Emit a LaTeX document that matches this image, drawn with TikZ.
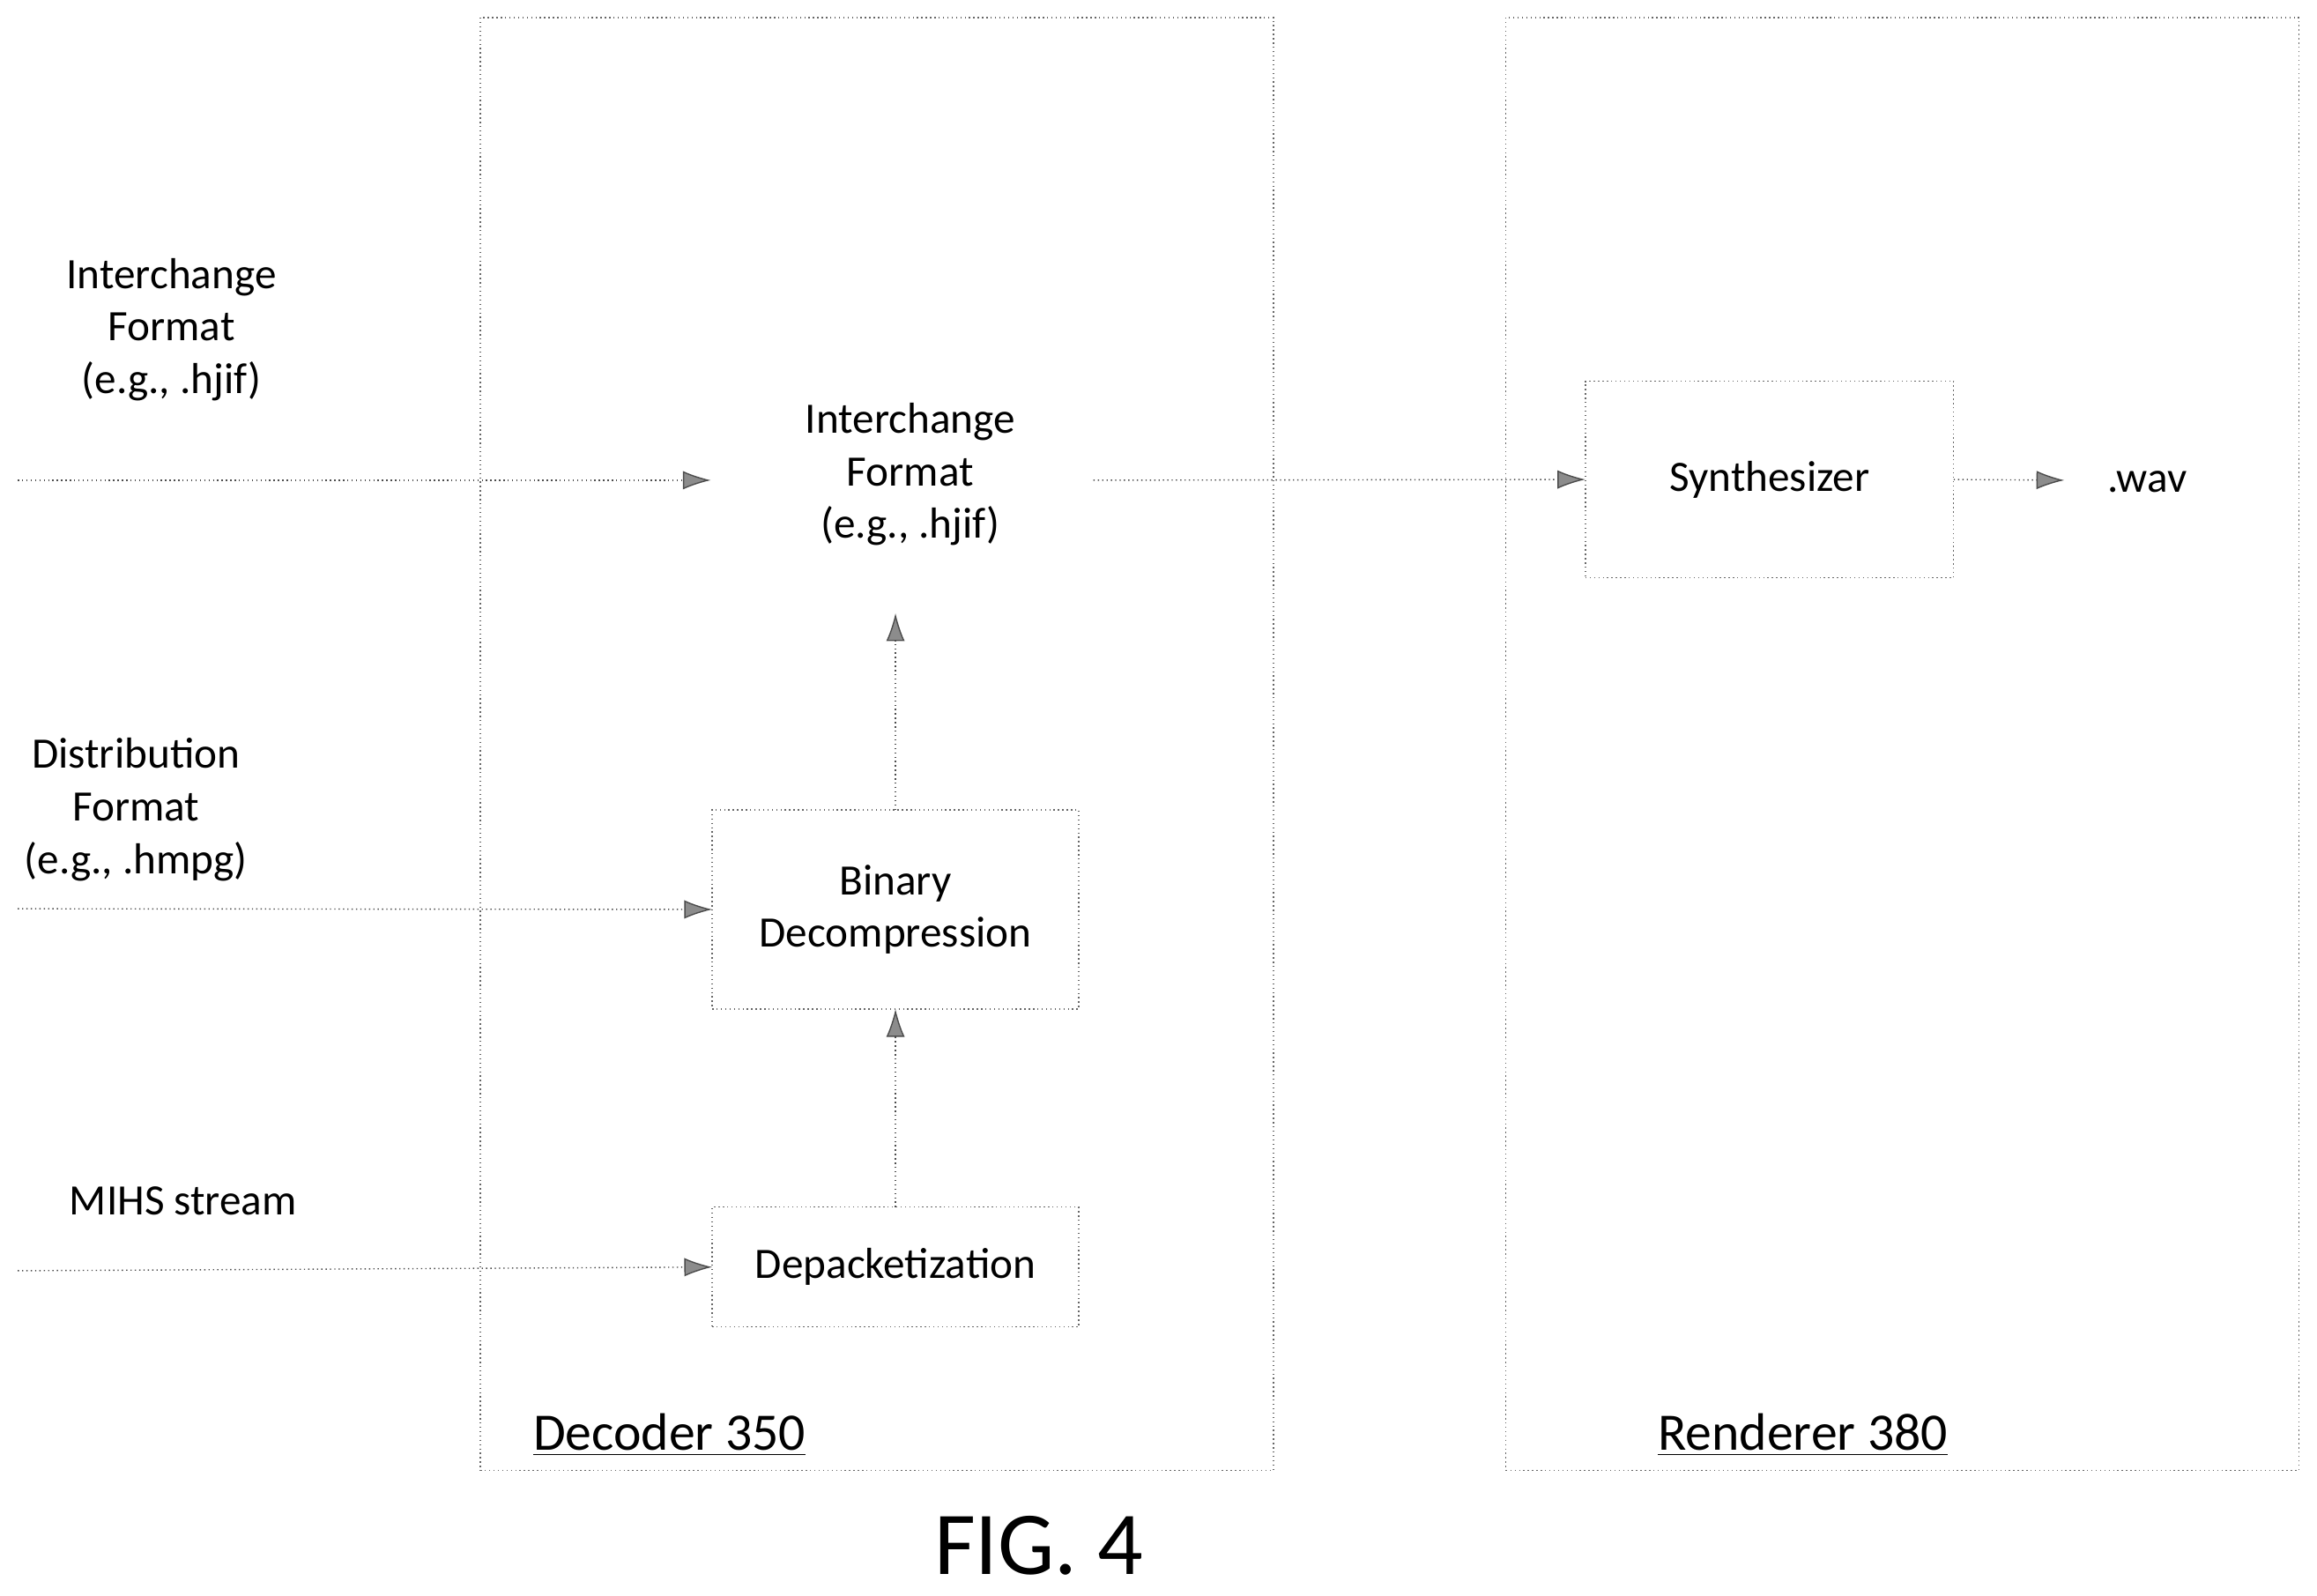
\documentclass[tikz,border=0pt]{standalone}
\usepackage{fontspec}
\setmainfont{Carlito}
\usetikzlibrary{arrows.meta}
\begin{document}
\begin{tikzpicture}
  [x=0.01677cm,y=-0.01677cm,
   frame/.style={rectangle,draw=black!60,densely dotted,thin,outer sep=0,inner sep=0},
   block/.style={rectangle,draw=black!60,densely dotted,thin,align=center,outer sep=0,
                 minimum width=4.16cm,font=\fontsize{14}{17}\selectfont},
   txt/.style={align=center,font=\fontsize{14}{17}\selectfont},
   flow/.style={draw=black!70,densely dotted,thin,
                -{Latex[length=9pt,width=6pt,fill=black!45,line width=0.4pt]}}]
  \useasboundingbox (0,0) rectangle (1568,1080);
  \node[frame,minimum width=9.0cm,minimum height=16.49cm] (dec) at (593.5,503.5) {};
  \node[frame,minimum width=9.0cm,minimum height=16.49cm] (ren) at (1287.5,503.5) {};
  \node[txt,font=\fontsize{17}{20}\selectfont] (declbl) at (453,971) {\underline{Decoder 350}};
  \node[txt,font=\fontsize{17}{20}\selectfont] (renlbl) at (1220,971) {\underline{Renderer 380}};
  \node[block,minimum width=4.18cm,minimum height=2.23cm] (synth) at (1197.5,324.5) {Synthesizer};
  \node[block,minimum height=2.26cm] (bin) at (606,615.5) {Binary\\Decompression};
  \node[block,minimum height=1.36cm] (depack) at (606,857.5) {Depacketization};
  \node[txt] (ifmt) at (616,321) {Interchange\\Format\\(e.g., .hjif)};
  \node[txt] (wav) at (1453,326) {.wav};
  \node[txt] (inif) at (116,223) {Interchange\\Format\\(e.g., .hjif)};
  \node[txt] (indist) at (92,548) {Distribution\\Format\\(e.g., .hmpg)};
  \node[txt] (inmihs) at (124,813) {MIHS stream};
  \node[font=\fontsize{29}{34}\selectfont] (fig) at (703,1046) {FIG. 4};
  \coordinate (a1) at (12,325);
  \coordinate (a2) at (12,615);
  \coordinate (a3) at (12,860);
  \coordinate (ifin) at (481,325);
  \coordinate (ifout) at (740,325);
  \coordinate (ifbot) at (606,415);
  \coordinate (wavin) at (1397,325);
  \draw[flow] (a1) to (ifin);
  \draw[flow] (a2) to (bin.west);
  \draw[flow] (a3) to (depack.west);
  \draw[flow] (depack.north) to (bin.south);
  \draw[flow] (bin.north) to (ifbot);
  \draw[flow] (ifout) to (synth.west);
  \draw[flow] (synth.east) to (wavin);
\end{tikzpicture}
\end{document}
